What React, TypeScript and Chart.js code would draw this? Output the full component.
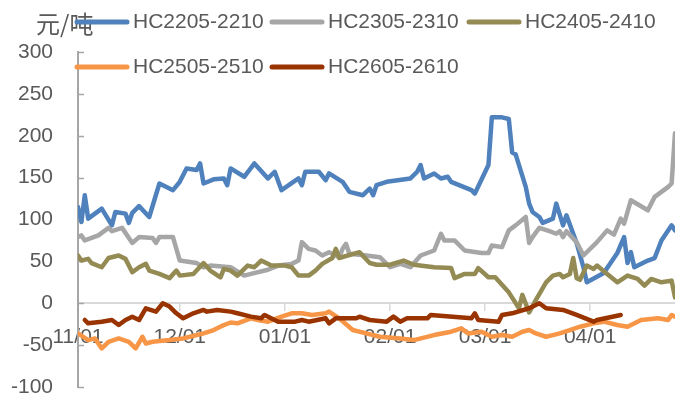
import React, { useEffect, useRef } from 'react';
import { Chart, registerables } from 'chart.js';

Chart.register(...registerables);

const FONT = '"Liberation Sans", Arial, sans-serif';
const CJK_FONT = '"Noto Sans CJK SC", "Liberation Sans", sans-serif';
const TEXT_COLOR = '#595959';

const unitLabel = '元/吨';
const monthTickDays = [0, 30, 61, 92, 120, 151];
const monthTickLabels = ['11/01', '12/01', '01/01', '02/01', '03/01', '04/01'];
const xMaxDay = 176;
const yTickValues = [-100, -50, 0, 50, 100, 150, 200, 250, 300];

const seriesNames = ['HC2205-2210', 'HC2305-2310', 'HC2405-2410', 'HC2505-2510', 'HC2605-2610'];
const seriesColors = ['#4F81BD', '#A6A6A6', '#948A54', '#F79646', '#993300'];

const hc2205Days = [0, 1, 2, 3, 7, 10, 11, 14, 15, 16, 18, 21, 24, 28, 30, 32, 35, 36, 37, 40, 43, 44, 45, 49, 52, 56, 58, 60, 65, 66, 67, 71, 73, 74, 78, 80, 84, 86, 87, 88, 91, 98, 100, 101, 102, 105, 107, 109, 110, 116, 117, 121, 122, 125, 127, 128, 129, 132, 133, 134, 136, 137, 140, 141, 143, 144, 147, 149, 150, 155, 159, 161, 162, 163, 164, 168, 170, 172, 175, 176];
const hc2205Vals = [115, 97, 129, 101, 113, 93, 109, 107, 96, 108, 116, 103, 143, 135, 145, 161, 159, 167, 143, 148, 149, 141, 161, 151, 167, 149, 157, 135, 149, 141, 157, 157, 147, 155, 145, 133, 129, 137, 129, 141, 145, 149, 157, 165, 149, 155, 149, 151, 145, 135, 131, 165, 222, 222, 220, 180, 178, 139, 119, 109, 103, 96, 101, 119, 93, 105, 72, 43, 25, 36, 60, 79, 48, 61, 43, 51, 54, 75, 93, 87];

const hc2305Days = [0, 1, 2, 6, 9, 10, 13, 16, 18, 22, 23, 24, 28, 30, 35, 37, 39, 45, 49, 51, 56, 59, 63, 65, 66, 68, 70, 72, 74, 77, 78, 79, 80, 85, 89, 92, 95, 98, 101, 105, 107, 108, 111, 114, 119, 121, 122, 125, 127, 129, 132, 133, 134, 136, 139, 141, 142, 143, 144, 147, 149, 153, 156, 158, 160, 161, 163, 168, 170, 174, 175, 176];
const hc2305Vals = [79, 81, 75, 81, 90, 86, 90, 72, 79, 78, 72, 79, 79, 51, 48, 43, 45, 43, 33, 35, 40, 45, 47, 51, 73, 65, 63, 57, 61, 55, 65, 71, 59, 57, 55, 43, 47, 43, 57, 63, 83, 75, 75, 63, 60, 60, 69, 67, 87, 93, 103, 72, 79, 90, 86, 83, 86, 79, 86, 73, 57, 73, 87, 82, 101, 95, 123, 111, 127, 139, 143, 203];

const hc2405Days = [0, 1, 3, 4, 7, 9, 12, 14, 16, 18, 20, 21, 24, 27, 29, 30, 34, 37, 39, 42, 43, 45, 47, 50, 52, 54, 57, 61, 63, 65, 68, 70, 72, 75, 76, 77, 83, 86, 88, 92, 96, 99, 105, 110, 111, 114, 117, 118, 121, 123, 127, 130, 131, 133, 135, 138, 140, 142, 143, 145, 146, 147, 148, 150, 152, 153, 156, 159, 162, 165, 167, 169, 172, 175, 176];
const hc2405Vals = [57, 51, 53, 48, 43, 54, 57, 53, 37, 43, 47, 39, 35, 30, 39, 33, 35, 48, 39, 31, 41, 39, 33, 45, 43, 51, 45, 45, 43, 33, 33, 39, 47, 54, 65, 54, 61, 48, 46, 46, 51, 46, 43, 42, 30, 35, 35, 42, 31, 31, 13, -6, 10, -11, 4, 25, 33, 35, 31, 35, 54, 30, 28, 45, 41, 45, 35, 25, 33, 29, 21, 29, 25, 27, 7];

const hc2505Days = [0, 3, 5, 7, 9, 12, 15, 17, 19, 20, 22, 27, 31, 33, 37, 40, 43, 45, 47, 51, 53, 56, 60, 63, 66, 69, 73, 74, 77, 81, 85, 89, 95, 99, 105, 110, 113, 115, 119, 122, 125, 128, 131, 133, 135, 138, 140, 142, 145, 148, 152, 155, 159, 162, 166, 171, 174, 175, 176];
const hc2505Vals = [-36, -44, -42, -54, -46, -42, -46, -54, -40, -48, -46, -44, -42, -40, -36, -32, -26, -23, -24, -18, -20, -22, -16, -12, -12, -14, -12, -10, -18, -32, -36, -40, -42, -44, -38, -34, -30, -36, -34, -40, -38, -40, -34, -32, -36, -40, -38, -36, -32, -28, -24, -22, -26, -28, -20, -18, -20, -14, -16];

const hc2605Days = [2, 3, 7, 10, 12, 14, 16, 18, 20, 23, 25, 27, 29, 31, 34, 37, 38, 41, 45, 47, 51, 54, 55, 59, 64, 66, 68, 73, 74, 76, 82, 83, 86, 91, 93, 95, 97, 103, 104, 116, 117, 118, 124, 125, 128, 133, 136, 138, 143, 147, 152, 153, 160];
const hc2605Vals = [-20, -24, -22, -20, -26, -20, -16, -20, -6, -10, 0, -4, -12, -18, -12, -8, -10, -8, -10, -12, -16, -18, -14, -22, -22, -20, -22, -18, -24, -18, -18, -16, -20, -22, -16, -22, -18, -18, -14, -18, -12, -20, -22, -14, -12, -6, 0, -6, -8, -14, -22, -20, -14];

const seriesDays = [hc2205Days, hc2305Days, hc2405Days, hc2505Days, hc2605Days];
const seriesVals = [hc2205Vals, hc2305Vals, hc2405Vals, hc2505Vals, hc2605Vals];

export default function App() {
  const canvasRef = useRef<HTMLCanvasElement | null>(null);

  useEffect(() => {
    const canvas = canvasRef.current;
    if (!canvas) return;

    const overlayPlugin = {
      id: 'overlayPlugin',
      beforeDatasetsDraw(chart: any) {
        const ctx = chart.ctx;
        const yScale = chart.scales.y;
        const left = chart.chartArea.left;
        ctx.save();
        ctx.strokeStyle = '#A6A6A6';
        ctx.lineWidth = 1.5;
        yTickValues.forEach((v) => {
          const py = Math.round(yScale.getPixelForValue(v)) + 0.5;
          ctx.beginPath();
          ctx.moveTo(left, py);
          ctx.lineTo(left + 6, py);
          ctx.stroke();
        });
        ctx.restore();
      },
      afterDraw(chart: any) {
        const ctx = chart.ctx;
        ctx.save();
        ctx.fillStyle = TEXT_COLOR;
        ctx.textBaseline = 'middle';
        ctx.textAlign = 'left';
        ctx.font = `24px ${CJK_FONT}`;
        ctx.fillText(unitLabel, 36, 24);

        const cols = [75, 270, 467];
        const rows = [22, 67];
        ctx.font = `21px ${FONT}`;
        seriesNames.forEach((name, i) => {
          const x = cols[i % 3];
          const y = rows[Math.floor(i / 3)];
          ctx.strokeStyle = seriesColors[i];
          ctx.lineWidth = 5;
          ctx.lineCap = 'round';
          ctx.beginPath();
          ctx.moveTo(x + 2, y);
          ctx.lineTo(x + 52, y);
          ctx.stroke();
          ctx.fillStyle = TEXT_COLOR;
          ctx.fillText(name, x + 58, y);
        });
        ctx.restore();
      },
    };

    const datasets = seriesNames.map((name, i) => ({
      label: name,
      data: seriesDays[i].map((d, j) => ({ x: d, y: seriesVals[i][j] })),
      borderColor: seriesColors[i],
      backgroundColor: seriesColors[i],
      borderWidth: 4.5,
      pointRadius: 0,
      tension: 0,
      borderJoinStyle: 'round' as const,
      borderCapStyle: 'round' as const,
      fill: false,
      order: 5 - i,
    }));

    const chart = new Chart(canvas, {
      type: 'line',
      data: { datasets },
      options: {
        responsive: false,
        animation: false,
        devicePixelRatio: 1,
        parsing: false as any,
        layout: { padding: { top: 52, bottom: 18, left: 0, right: 0 } },
        plugins: {
          legend: { display: false },
          tooltip: { enabled: false },
          title: { display: false },
        },
        scales: {
          x: {
            type: 'linear',
            min: 0,
            max: xMaxDay,
            position: { y: 0 } as any,
            afterBuildTicks: (scale: any) => {
              scale.ticks = monthTickDays.map((v) => ({ value: v }));
            },
            afterFit: (scale: any) => {
              scale.height = 0;
              scale.paddingLeft = 0;
              scale.paddingRight = 0;
            },
            ticks: {
              autoSkip: false,
              maxRotation: 0,
              minRotation: 0,
              padding: 14,
              color: TEXT_COLOR,
              font: { family: FONT, size: 21 },
              callback: (_v: any, index: number) => monthTickLabels[index] ?? '',
            },
            grid: {
              display: true,
              drawOnChartArea: false,
              drawTicks: true,
              tickLength: 7,
              color: '#D9D9D9',
              lineWidth: 1.5,
            },
            border: { display: true, color: '#D9D9D9', width: 2 },
          },
          y: {
            type: 'linear',
            min: -100,
            max: 300,
            afterFit: (scale: any) => {
              scale.width = 78;
              scale.paddingTop = 0;
              scale.paddingBottom = 0;
            },
            ticks: {
              stepSize: 50,
              padding: 25,
              color: TEXT_COLOR,
              font: { family: FONT, size: 21 },
            },
            grid: { display: false, drawTicks: false },
            border: { display: true, color: '#A6A6A6', width: 2 },
          },
        },
      },
      plugins: [overlayPlugin],
    });

    return () => {
      chart.destroy();
    };
  }, []);

  return (
    <div style={{ position: 'fixed', left: 0, top: 0, width: 675, height: 405, background: '#ffffff' }}>
      <canvas ref={canvasRef} width={675} height={405} style={{ display: 'block', width: 675, height: 405 }} />
    </div>
  );
}
